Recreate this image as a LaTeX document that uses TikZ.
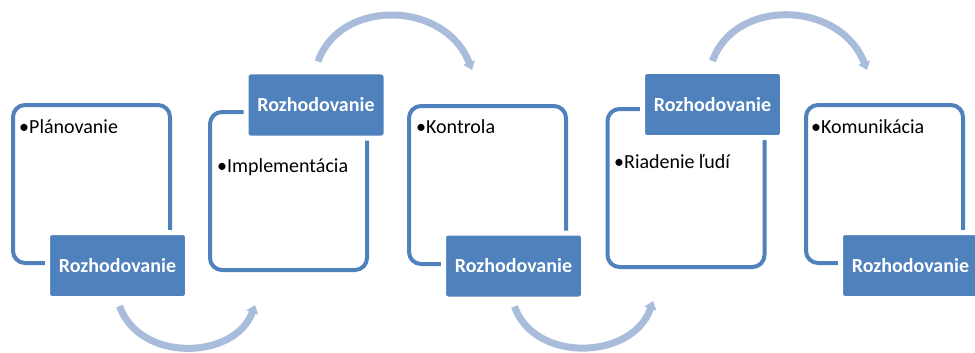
\documentclass[tikz,border=0pt]{standalone}
\usepackage{fontspec}
\setmainfont{Carlito}
\usetikzlibrary{arrows.meta,shadows}
\definecolor{accent}{HTML}{4F81BD}
\definecolor{flow}{HTML}{A9BCDB}
\begin{document}
\begin{tikzpicture}[x=1pt,y=-1pt,
  stagebox/.style={draw=accent, line width=4pt, fill=white, rounded corners=12pt,
    minimum width=157pt, minimum height=158pt, inner sep=0pt},
  decision/.style={fill=accent, draw=white, line width=5pt, rounded corners=4pt,
    minimum width=140pt, minimum height=66pt, inner sep=0pt, text=white,
    font=\fontsize{20}{24}\selectfont\bfseries,
    drop shadow={shadow xshift=1.5pt, shadow yshift=-1.5pt, opacity=0.2, fill=black!60}},
  item/.style={anchor=base west, inner sep=0pt, font=\fontsize{20}{24}\selectfont},
  flowarc/.style={draw=flow, line width=7pt, -{Triangle[length=8pt,width=12pt]}}
]
% page
\fill[white] (0,0) rectangle (975,353);
\useasboundingbox (0,0) rectangle (975,353);

% stage boxes
\node[stagebox] (b1) at (91.5,184) {};
\node[stagebox] (b2) at (288.5,191) {};
\node[stagebox] (b3) at (487.5,185) {};
\node[stagebox] (b4) at (686,188) {};
\node[stagebox] (b5) at (884.5,184) {};

% stage texts
\node[item] (t1) at (19,133) {•Plánovanie};
\node[item] (t2) at (217,172) {•Implementácia};
\node[item] (t3) at (416,133) {•Kontrola};
\node[item] (t4) at (614,168) {•Riadenie ľudí};
\node[item] (t5) at (811,133) {•Komunikácia};

% decision labels
\node[decision] (d1) at (117.5,265.5) {Rozhodovanie};
\node[decision] (d2) at (316,105) {Rozhodovanie};
\node[decision] (d3) at (513.5,266) {Rozhodovanie};
\node[decision] (d4) at (712.5,104.5) {Rozhodovanie};
\node[decision] (d5) at (910.5,265.5) {Rozhodovanie};

% arc ends
\coordinate (e1) at (255,305);
\coordinate (e2) at (472,70);
\coordinate (e3) at (653,301);
\coordinate (e4) at (867,70);

% flow arcs
\draw[flowarc] ([xshift=2pt,yshift=-5pt]d1.south) .. controls +(20,57) and (235,360) .. (e1);
\draw[flowarc] ([xshift=2pt,yshift=8pt]d2.north) .. controls +(22,-63) and (445,0) .. (e2);
\draw[flowarc] ([xshift=1pt,yshift=-5pt]d3.south) .. controls +(20,57) and (633,360) .. (e3);
\draw[flowarc] ([xshift=0pt,yshift=8pt]d4.north) .. controls +(22,-63) and (840,0) .. (e4);
\end{tikzpicture}
\end{document}
